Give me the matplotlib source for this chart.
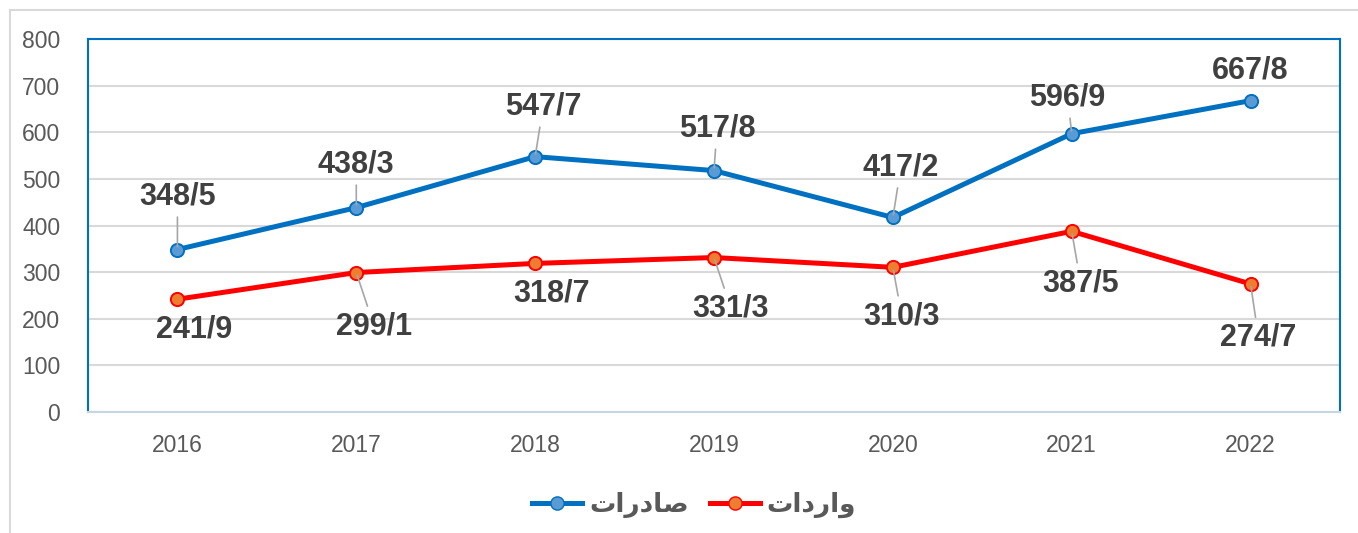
import matplotlib
matplotlib.use("Agg")
from matplotlib import pyplot as plt
from matplotlib.lines import Line2D

years = ['2016', '2017', '2018', '2019', '2020', '2021', '2022']
exports = [348.5, 438.3, 547.7, 517.8, 417.2, 596.9, 667.8]
imports = [241.9, 299.1, 318.7, 331.3, 310.3, 387.5, 274.7]
export_labels = ['348/5', '438/3', '547/7', '517/8', '417/2', '596/9', '667/8']
import_labels = ['241/9', '299/1', '318/7', '331/3', '310/3', '387/5', '274/7']

# label offsets in pixels (dx, dy, draw leader?)
exp_off = [(0, -53, True), (0, -43, True), (8, -50, True), (3, -42, True),
           (8, -50, True), (-4, -36, True), (0, -30, False)]
imp_off = [(17, 30, False), (18, 54, True), (16, 30, False), (17, 51, True),
           (9, 49, True), (9, 52, True), (8, 54, True)]

# Persian legend text, pre-shaped (visual order)
lbl_exp = '\uFE95\uFE8D\uFEAD\uFEA9\uFE8E\uFEBB'   # صادرات
lbl_imp = '\uFE95\uFE8D\uFEA9\uFEAD\uFE8D\uFEED'   # واردات

BLUE = '#0070c0'
RED = '#ff0000'
TXT = '#404040'

fig = plt.figure(figsize=(13.58, 5.33), dpi=100)
ax = fig.add_axes([88/1358, 1 - 412/533, (1340-88)/1358, (412-39)/533])

x = list(range(len(years)))
ax.plot(x, exports, color=BLUE, lw=3.6, marker='o', ms=9.5,
        mfc='#5b9bd5', mec=BLUE, mew=1.4, zorder=3)
ax.plot(x, imports, color=RED, lw=3.6, marker='o', ms=9.5,
        mfc='#ed7d31', mec=RED, mew=1.4, zorder=3)

px = 72 / 100  # pixels -> points
def put_labels(vals, labels, offs):
    for i, (v, t, (dx, dy, lead)) in enumerate(zip(vals, labels, offs)):
        kw = {}
        if lead:
            kw['arrowprops'] = dict(arrowstyle='-', color='#a6a6a6', lw=1.2,
                                    shrinkA=2, shrinkB=2)
        ax.annotate(t, (i, v), xytext=(dx*px, -dy*px), textcoords='offset points',
                    ha='center', va='center', fontsize=22, fontweight='bold',
                    family='Liberation Sans', color=TXT, zorder=4, **kw)

put_labels(exports, export_labels, exp_off)
put_labels(imports, import_labels, imp_off)

ax.set_xlim(-0.5, 6.5)
ax.set_ylim(0, 800)
ax.set_yticks(range(0, 801, 100))
ax.set_xticks(x)
ax.set_xticklabels(years)
ax.grid(axis='y', color='#d9d9d9', lw=1.5)
ax.set_axisbelow(True)
ax.tick_params(length=0, labelsize=16.5, labelcolor='#595959')
ax.tick_params(axis='y', pad=20)
ax.tick_params(axis='x', pad=16)
for lab in ax.get_xticklabels() + ax.get_yticklabels():
    lab.set_family('Liberation Sans')
for s in ['left', 'top', 'right']:
    ax.spines[s].set_color(BLUE)
    ax.spines[s].set_linewidth(1.5)
ax.spines['bottom'].set_color('#c5d5e4')
ax.spines['bottom'].set_linewidth(1.5)

# outer chart frame (left and top edges)
fig.add_artist(Line2D([10/1358, 10/1358], [0, 1 - 10/533], color='#d9d9d9', lw=1.5))
fig.add_artist(Line2D([10/1358, 1], [1 - 10/533, 1 - 10/533], color='#d9d9d9', lw=1.5))

h1 = Line2D([], [], color=BLUE, lw=3.6, marker='o', ms=9.5, mfc='#5b9bd5', mec=BLUE)
h2 = Line2D([], [], color=RED, lw=3.6, marker='o', ms=9.5, mfc='#ed7d31', mec=RED)
leg = fig.legend([h1, h2], [lbl_exp, lbl_imp], loc='center', bbox_to_anchor=(694/1358, 1 - 505/533),
                 ncol=2, frameon=False, handlelength=1.9, handletextpad=0.25,
                 columnspacing=0.8, prop={'family': 'DejaVu Sans', 'weight': 'bold', 'size': 19})
for t in leg.get_texts():
    t.set_color('#595959')

fig.savefig('out.png', dpi=100)
